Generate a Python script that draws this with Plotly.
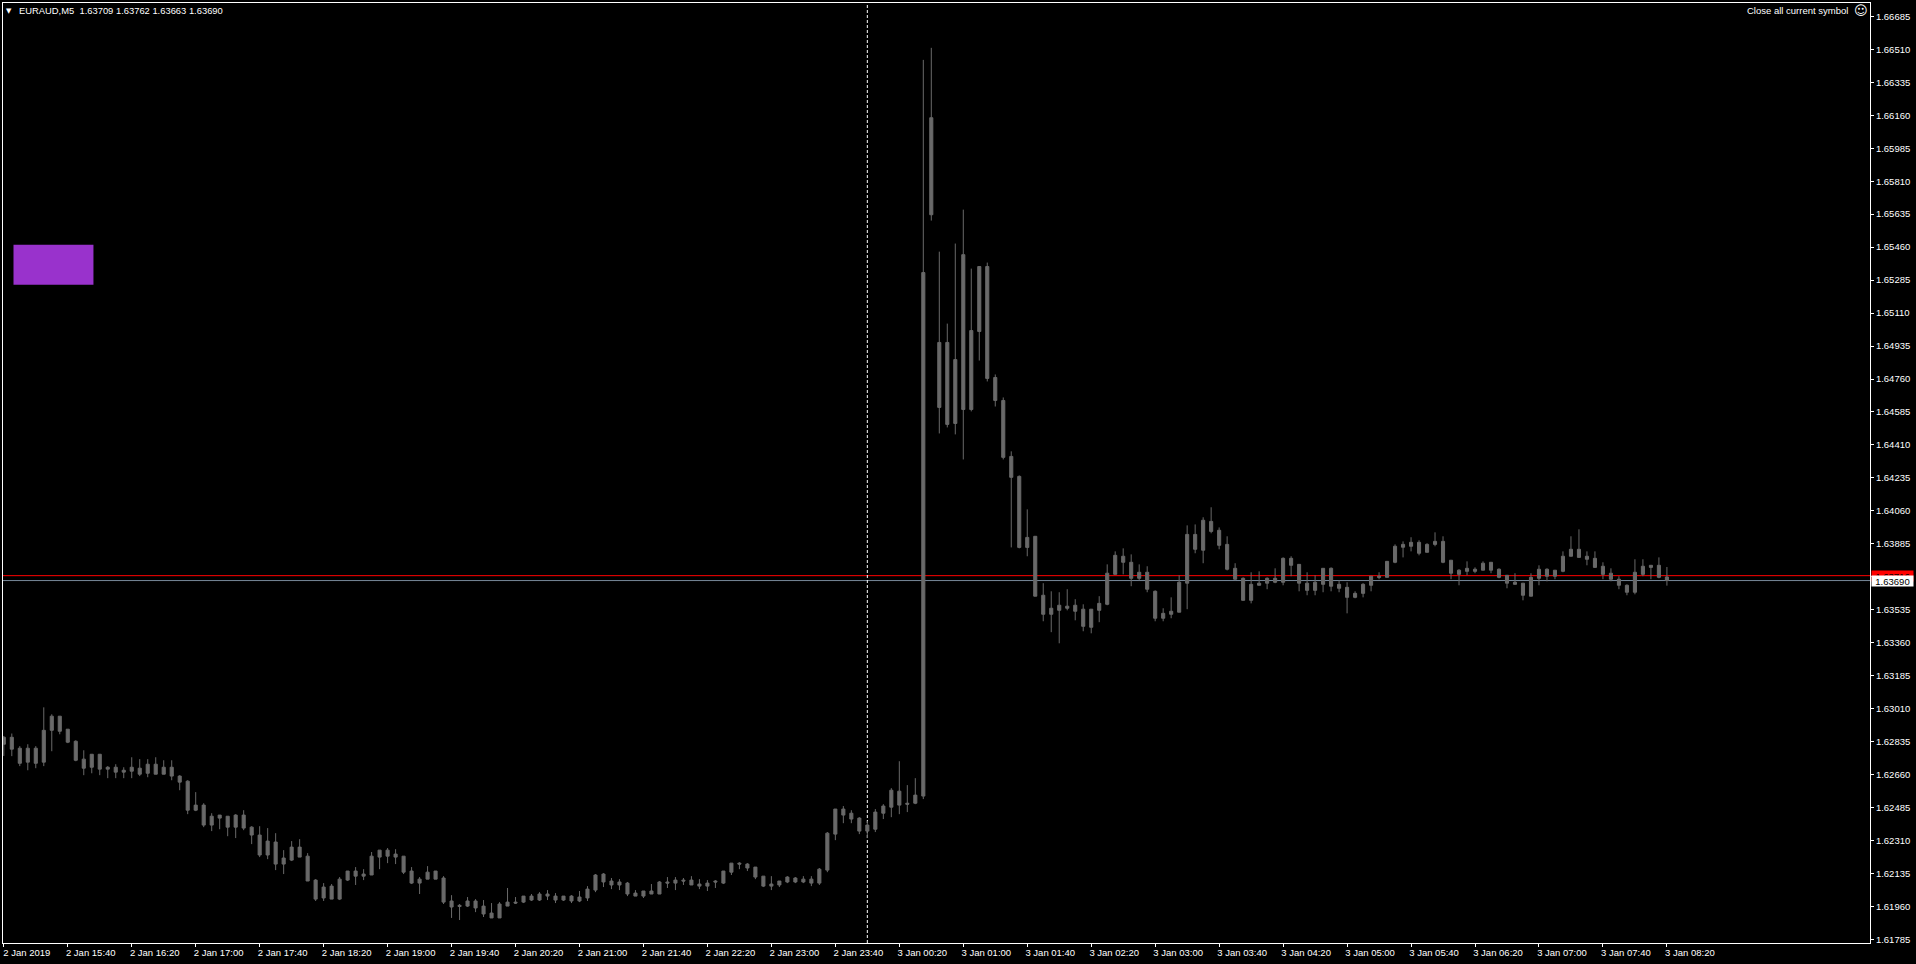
import pandas as pd
import plotly.graph_objects as go

# EURAUD M5 bars, one every 5 minutes. The terminal paints up and down candles
# the same grey, so only the body edges can be read, not which one is the open.
bar_times = pd.date_range("2019-01-02 15:00", periods=209, freq="5min")

highs = [
    1.62865, 1.62878, 1.62811, 1.62821, 1.62811, 1.63017, 1.62980, 1.62970, 1.62901, 1.62842,
    1.62789, 1.62768, 1.62768, 1.62705, 1.62715, 1.62699, 1.62752, 1.62742, 1.62742, 1.62752,
    1.62736, 1.62736, 1.62657, 1.62630, 1.62567, 1.62508, 1.62455, 1.62445, 1.62439, 1.62450,
    1.62471, 1.62386, 1.62386, 1.62376, 1.62349, 1.62259, 1.62307, 1.62317, 1.62243, 1.62105,
    1.62084, 1.62079, 1.62116, 1.62148, 1.62169, 1.62158, 1.62249, 1.62259, 1.62270, 1.62264,
    1.62227, 1.62169, 1.62116, 1.62174, 1.62148, 1.62121, 1.62020, 1.61973, 1.62010, 1.61999,
    1.61994, 1.61978, 1.61983, 1.62058, 1.62010, 1.62015, 1.62026, 1.62036, 1.62047, 1.62031,
    1.62015, 1.62020, 1.62042, 1.62068, 1.62132, 1.62137, 1.62111, 1.62105, 1.62090, 1.62047,
    1.62042, 1.62079, 1.62095, 1.62116, 1.62116, 1.62111, 1.62121, 1.62105, 1.62100, 1.62100,
    1.62148, 1.62190, 1.62195, 1.62190, 1.62169, 1.62121, 1.62121, 1.62095, 1.62121, 1.62116,
    1.62121, 1.62121, 1.62164, 1.62355, 1.62477, 1.62493, 1.62471, 1.62434, 1.62413, 1.62477,
    1.62503, 1.62588, 1.62731, 1.62604, 1.62641, 1.66454, 1.66518, 1.65436, 1.65054, 1.65479,
    1.65659, 1.65346, 1.65357, 1.65378, 1.64784, 1.64662, 1.64376, 1.64248, 1.64068, 1.63925,
    1.63676, 1.63633, 1.63628, 1.63644, 1.63591, 1.63564, 1.63538, 1.63607, 1.63776, 1.63845,
    1.63861, 1.63829, 1.63776, 1.63766, 1.63638, 1.63543, 1.63601, 1.63718, 1.63983, 1.63988,
    1.64026, 1.64079, 1.63972, 1.63925, 1.63782, 1.63707, 1.63734, 1.63739, 1.63707, 1.63755,
    1.63813, 1.63819, 1.63776, 1.63734, 1.63718, 1.63755, 1.63760, 1.63691, 1.63681, 1.63633,
    1.63676, 1.63713, 1.63734, 1.63792, 1.63882, 1.63898, 1.63920, 1.63904, 1.63888, 1.63946,
    1.63925, 1.63798, 1.63750, 1.63792, 1.63760, 1.63792, 1.63787, 1.63755, 1.63718, 1.63729,
    1.63676, 1.63729, 1.63771, 1.63755, 1.63745, 1.63845, 1.63925, 1.63962, 1.63845, 1.63845,
    1.63787, 1.63755, 1.63713, 1.63670, 1.63803, 1.63803, 1.63771, 1.63813, 1.63762,
]
body_tops = [
    1.62858, 1.62858, 1.62800, 1.62800, 1.62800, 1.62895, 1.62970, 1.62970, 1.62901, 1.62837,
    1.62742, 1.62768, 1.62768, 1.62699, 1.62699, 1.62683, 1.62699, 1.62694, 1.62715, 1.62715,
    1.62699, 1.62699, 1.62652, 1.62625, 1.62498, 1.62498, 1.62439, 1.62445, 1.62439, 1.62445,
    1.62445, 1.62381, 1.62339, 1.62307, 1.62302, 1.62217, 1.62275, 1.62275, 1.62227, 1.62100,
    1.62063, 1.62068, 1.62105, 1.62148, 1.62148, 1.62132, 1.62227, 1.62259, 1.62259, 1.62238,
    1.62227, 1.62148, 1.62105, 1.62142, 1.62148, 1.62111, 1.61989, 1.61966, 1.61989, 1.61989,
    1.61962, 1.61925, 1.61973, 1.61983, 1.61983, 1.62015, 1.62015, 1.62026, 1.62026, 1.62015,
    1.62015, 1.62015, 1.62010, 1.62052, 1.62127, 1.62132, 1.62095, 1.62090, 1.62084, 1.62031,
    1.62042, 1.62042, 1.62090, 1.62090, 1.62100, 1.62100, 1.62100, 1.62079, 1.62084, 1.62095,
    1.62148, 1.62190, 1.62190, 1.62185, 1.62169, 1.62121, 1.62079, 1.62095, 1.62116, 1.62111,
    1.62105, 1.62105, 1.62158, 1.62349, 1.62477, 1.62477, 1.62455, 1.62429, 1.62392, 1.62461,
    1.62493, 1.62577, 1.62572, 1.62508, 1.62551, 1.65325, 1.66147, 1.64954, 1.64954, 1.64863,
    1.65420, 1.65017, 1.65357, 1.65357, 1.64768, 1.64646, 1.64349, 1.64243, 1.63919, 1.63925,
    1.63612, 1.63543, 1.63559, 1.63554, 1.63559, 1.63538, 1.63538, 1.63569, 1.63729, 1.63824,
    1.63819, 1.63787, 1.63734, 1.63734, 1.63633, 1.63516, 1.63527, 1.63681, 1.63935, 1.63935,
    1.64010, 1.64004, 1.63957, 1.63882, 1.63755, 1.63702, 1.63670, 1.63676, 1.63702, 1.63702,
    1.63808, 1.63808, 1.63776, 1.63676, 1.63681, 1.63755, 1.63755, 1.63670, 1.63654, 1.63622,
    1.63670, 1.63713, 1.63713, 1.63792, 1.63872, 1.63882, 1.63893, 1.63893, 1.63882, 1.63898,
    1.63898, 1.63798, 1.63745, 1.63755, 1.63750, 1.63782, 1.63787, 1.63750, 1.63718, 1.63681,
    1.63676, 1.63707, 1.63750, 1.63750, 1.63745, 1.63819, 1.63856, 1.63856, 1.63819, 1.63808,
    1.63766, 1.63729, 1.63697, 1.63665, 1.63734, 1.63766, 1.63771, 1.63771, 1.63709,
]
body_bottoms = [
    1.62821, 1.62795, 1.62720, 1.62726, 1.62720, 1.62726, 1.62895, 1.62890, 1.62832, 1.62736,
    1.62694, 1.62699, 1.62689, 1.62689, 1.62673, 1.62673, 1.62678, 1.62662, 1.62667, 1.62662,
    1.62662, 1.62652, 1.62620, 1.62471, 1.62471, 1.62392, 1.62392, 1.62429, 1.62381, 1.62381,
    1.62376, 1.62339, 1.62233, 1.62233, 1.62185, 1.62185, 1.62206, 1.62222, 1.62095, 1.61999,
    1.62005, 1.61999, 1.61999, 1.62100, 1.62121, 1.62121, 1.62127, 1.62222, 1.62227, 1.62222,
    1.62142, 1.62084, 1.62084, 1.62105, 1.62105, 1.61983, 1.61957, 1.61960, 1.61962, 1.61952,
    1.61920, 1.61899, 1.61899, 1.61962, 1.61978, 1.61983, 1.61994, 1.61994, 1.62015, 1.61994,
    1.61994, 1.61989, 1.61989, 1.62005, 1.62047, 1.62090, 1.62074, 1.62074, 1.62026, 1.62015,
    1.62015, 1.62026, 1.62026, 1.62084, 1.62084, 1.62095, 1.62074, 1.62068, 1.62068, 1.62090,
    1.62084, 1.62142, 1.62185, 1.62164, 1.62116, 1.62068, 1.62068, 1.62074, 1.62090, 1.62090,
    1.62090, 1.62084, 1.62084, 1.62153, 1.62344, 1.62445, 1.62424, 1.62360, 1.62360, 1.62370,
    1.62455, 1.62487, 1.62498, 1.62503, 1.62508, 1.62546, 1.65632, 1.64609, 1.64519, 1.64524,
    1.64598, 1.64598, 1.65012, 1.64763, 1.64646, 1.64344, 1.64238, 1.63866, 1.63866, 1.63607,
    1.63511, 1.63511, 1.63532, 1.63543, 1.63527, 1.63447, 1.63442, 1.63532, 1.63564, 1.63723,
    1.63787, 1.63702, 1.63702, 1.63644, 1.63490, 1.63490, 1.63511, 1.63522, 1.63676, 1.63856,
    1.63851, 1.63951, 1.63877, 1.63750, 1.63697, 1.63585, 1.63585, 1.63665, 1.63676, 1.63681,
    1.63681, 1.63771, 1.63676, 1.63638, 1.63638, 1.63670, 1.63660, 1.63649, 1.63601, 1.63601,
    1.63622, 1.63665, 1.63707, 1.63707, 1.63787, 1.63867, 1.63872, 1.63835, 1.63840, 1.63882,
    1.63787, 1.63729, 1.63723, 1.63739, 1.63739, 1.63745, 1.63745, 1.63707, 1.63676, 1.63670,
    1.63612, 1.63607, 1.63702, 1.63713, 1.63713, 1.63739, 1.63819, 1.63813, 1.63803, 1.63760,
    1.63723, 1.63697, 1.63665, 1.63628, 1.63628, 1.63723, 1.63760, 1.63707, 1.63690,
]
lows = [
    1.62759, 1.62758, 1.62705, 1.62683, 1.62694, 1.62705, 1.62784, 1.62874, 1.62827, 1.62731,
    1.62657, 1.62667, 1.62657, 1.62641, 1.62641, 1.62641, 1.62641, 1.62652, 1.62646, 1.62662,
    1.62662, 1.62630, 1.62577, 1.62450, 1.62466, 1.62381, 1.62360, 1.62370, 1.62333, 1.62323,
    1.62365, 1.62291, 1.62222, 1.62211, 1.62153, 1.62132, 1.62201, 1.62222, 1.62095, 1.61989,
    1.61989, 1.61999, 1.61994, 1.62095, 1.62074, 1.62100, 1.62127, 1.62158, 1.62190, 1.62185,
    1.62132, 1.62079, 1.62026, 1.62105, 1.62105, 1.61973, 1.61899, 1.61888, 1.61957, 1.61930,
    1.61904, 1.61899, 1.61899, 1.61962, 1.61973, 1.61978, 1.61989, 1.61989, 1.61994, 1.61978,
    1.61989, 1.61978, 1.61983, 1.61989, 1.62036, 1.62063, 1.62052, 1.62047, 1.62015, 1.62015,
    1.62005, 1.62026, 1.62026, 1.62058, 1.62047, 1.62074, 1.62074, 1.62052, 1.62042, 1.62058,
    1.62079, 1.62127, 1.62158, 1.62148, 1.62105, 1.62063, 1.62047, 1.62063, 1.62084, 1.62084,
    1.62084, 1.62068, 1.62074, 1.62142, 1.62312, 1.62402, 1.62402, 1.62344, 1.62323, 1.62355,
    1.62424, 1.62434, 1.62450, 1.62461, 1.62503, 1.62530, 1.65601, 1.64471, 1.64503, 1.64466,
    1.64333, 1.64588, 1.64858, 1.64747, 1.64614, 1.64333, 1.63866, 1.63861, 1.63819, 1.63607,
    1.63474, 1.63416, 1.63357, 1.63532, 1.63479, 1.63421, 1.63410, 1.63469, 1.63559, 1.63723,
    1.63723, 1.63660, 1.63691, 1.63628, 1.63474, 1.63474, 1.63490, 1.63522, 1.63538, 1.63835,
    1.63782, 1.63941, 1.63856, 1.63744, 1.63691, 1.63585, 1.63569, 1.63665, 1.63644, 1.63676,
    1.63665, 1.63713, 1.63633, 1.63612, 1.63612, 1.63628, 1.63633, 1.63628, 1.63516, 1.63596,
    1.63601, 1.63633, 1.63697, 1.63707, 1.63782, 1.63813, 1.63845, 1.63824, 1.63840, 1.63872,
    1.63782, 1.63697, 1.63665, 1.63718, 1.63729, 1.63745, 1.63729, 1.63702, 1.63649, 1.63670,
    1.63585, 1.63607, 1.63665, 1.63686, 1.63697, 1.63734, 1.63819, 1.63813, 1.63771, 1.63760,
    1.63697, 1.63686, 1.63644, 1.63612, 1.63617, 1.63713, 1.63697, 1.63702, 1.63663,
]

price_ticks = [
    1.66685, 1.66510, 1.66335, 1.66160, 1.65985, 1.65810, 1.65635, 1.65460, 1.65285, 1.65110,
    1.64935, 1.64760, 1.64585, 1.64410, 1.64235, 1.64060, 1.63885, 1.63710, 1.63535, 1.63360,
    1.63185, 1.63010, 1.62835, 1.62660, 1.62485, 1.62310, 1.62135, 1.61960, 1.61785,
]
time_ticks = [
    "2019-01-02 15:00", "2019-01-02 15:40", "2019-01-02 16:20", "2019-01-02 17:00",
    "2019-01-02 17:40", "2019-01-02 18:20", "2019-01-02 19:00", "2019-01-02 19:40",
    "2019-01-02 20:20", "2019-01-02 21:00", "2019-01-02 21:40", "2019-01-02 22:20",
    "2019-01-02 23:00", "2019-01-02 23:40", "2019-01-03 00:20", "2019-01-03 01:00",
    "2019-01-03 01:40", "2019-01-03 02:20", "2019-01-03 03:00", "2019-01-03 03:40",
    "2019-01-03 04:20", "2019-01-03 05:00", "2019-01-03 05:40", "2019-01-03 06:20",
    "2019-01-03 07:00", "2019-01-03 07:40", "2019-01-03 08:20",
]
time_labels = [
    "2 Jan 2019", "2 Jan 15:40", "2 Jan 16:20", "2 Jan 17:00", "2 Jan 17:40", "2 Jan 18:20",
    "2 Jan 19:00", "2 Jan 19:40", "2 Jan 20:20", "2 Jan 21:00", "2 Jan 21:40", "2 Jan 22:20",
    "2 Jan 23:00", "2 Jan 23:40", "3 Jan 00:20", "3 Jan 01:00", "3 Jan 01:40", "3 Jan 02:20",
    "3 Jan 03:00", "3 Jan 03:40", "3 Jan 04:20", "3 Jan 05:00", "3 Jan 05:40", "3 Jan 06:20",
    "3 Jan 07:00", "3 Jan 07:40", "3 Jan 08:20",
]

BID = 1.63690
ASK = 1.63716
HEADER = "EURAUD,M5  1.63709 1.63762 1.63663 1.63690"
SEPARATOR_TIME = "2019-01-03 00:00"

CANDLE = "#696969"
TEXT_FONT = dict(family="Liberation Sans", size=9.5, color="white")

fig = go.Figure(go.Candlestick(
    x=bar_times,
    open=body_tops,
    high=highs,
    low=lows,
    close=body_bottoms,
    whiskerwidth=0,
    increasing=dict(line=dict(color=CANDLE, width=1), fillcolor=CANDLE),
    decreasing=dict(line=dict(color=CANDLE, width=1), fillcolor=CANDLE),
    hoverinfo="skip",
))

# price lines and the period separator all sit behind the candles
fig.add_shape(type="line", xref="paper", x0=0, x1=1, yref="y", y0=ASK, y1=ASK,
              line=dict(color="#ff0000", width=1), layer="below")
fig.add_shape(type="line", xref="paper", x0=0, x1=1, yref="y", y0=BID, y1=BID,
              line=dict(color="#778899", width=1), layer="below")
fig.add_shape(type="line", yref="paper", y0=0, y1=1, x0=SEPARATOR_TIME, x1=SEPARATOR_TIME,
              line=dict(color="white", width=1, dash="3px,2px"), layer="below")

# the purple button on the left
fig.add_shape(type="rect", xref="paper", yref="paper",
              x0=0.00562, x1=0.04845, y0=0.7003, y1=0.7428,
              fillcolor="#9932cc", line=dict(color="#9932cc", width=0))

# header and top right button
fig.add_annotation(xref="paper", yref="paper", x=0.0031, y=0.9915, xanchor="center", yanchor="middle",
                   text="▼", showarrow=False, font=dict(family="DejaVu Sans", size=7, color="white"))
fig.add_annotation(xref="paper", yref="paper", x=0.0077, y=0.9915, xanchor="left", yanchor="middle",
                   text=HEADER.replace("  ", "&nbsp;&nbsp;"), showarrow=False,
                   font=dict(family="Liberation Sans", size=9.4, color="white"))
fig.add_annotation(xref="paper", yref="paper", x=0.9895, y=0.9915, xanchor="right", yanchor="middle",
                   text="Close all current symbol", showarrow=False, font=TEXT_FONT)
fig.add_annotation(xref="paper", yref="paper", x=0.9998, y=0.9915, xanchor="right", yanchor="middle",
                   text="☺", showarrow=False, font=dict(family="DejaVu Sans", size=13, color="white"))

# ask and bid boxes on the price scale, bid painted last
fig.add_annotation(xref="paper", yref="y", x=1, y=ASK, xanchor="left", yanchor="middle", xshift=1,
                   width=41, height=10, bgcolor="#ff0000", borderpad=0, showarrow=False,
                   text=f"{ASK:.5f}", font=dict(family="Liberation Sans", size=9.5, color="black"))
fig.add_annotation(xref="paper", yref="y", x=1, y=BID, xanchor="left", yanchor="middle", xshift=1,
                   width=41, height=10, bgcolor="white", borderpad=0, showarrow=False,
                   text=f"{BID:.5f}", font=dict(family="Liberation Sans", size=9.5, color="black"))

fig.update_layout(
    width=1916,
    height=964,
    margin=dict(l=2.5, r=45.5, t=2.5, b=20.5),
    paper_bgcolor="black",
    plot_bgcolor="black",
    showlegend=False,
    boxgap=0.45,
    xaxis=dict(
        type="date",
        range=["2019-01-02 14:59:30", "2019-01-03 10:27:00"],
        rangeslider=dict(visible=False),
        tickmode="array",
        tickvals=time_ticks,
        ticktext=time_labels,
        ticks="outside",
        ticklen=3,
        tickwidth=1,
        tickcolor="white",
        tickangle=0,
        tickfont=TEXT_FONT,
        ticklabelshift=23,
        ticklabelstandoff=-2,
        showgrid=False,
        zeroline=False,
        showline=True,
        linecolor="white",
        linewidth=1,
        mirror=True,
    ),
    yaxis=dict(
        side="right",
        range=[1.61766, 1.66756],
        tickmode="array",
        tickvals=price_ticks,
        tickformat=".5f",
        ticks="outside",
        ticklen=3,
        tickwidth=1,
        tickcolor="white",
        tickfont=TEXT_FONT,
        showgrid=False,
        zeroline=False,
        showline=True,
        linecolor="white",
        linewidth=1,
        mirror=True,
    ),
)

fig.write_html(
    "out.html",
    config=dict(displayModeBar=False),
    post_script="document.body.style.margin='0';document.body.style.background='black';document.body.style.overflow='hidden';",
)
